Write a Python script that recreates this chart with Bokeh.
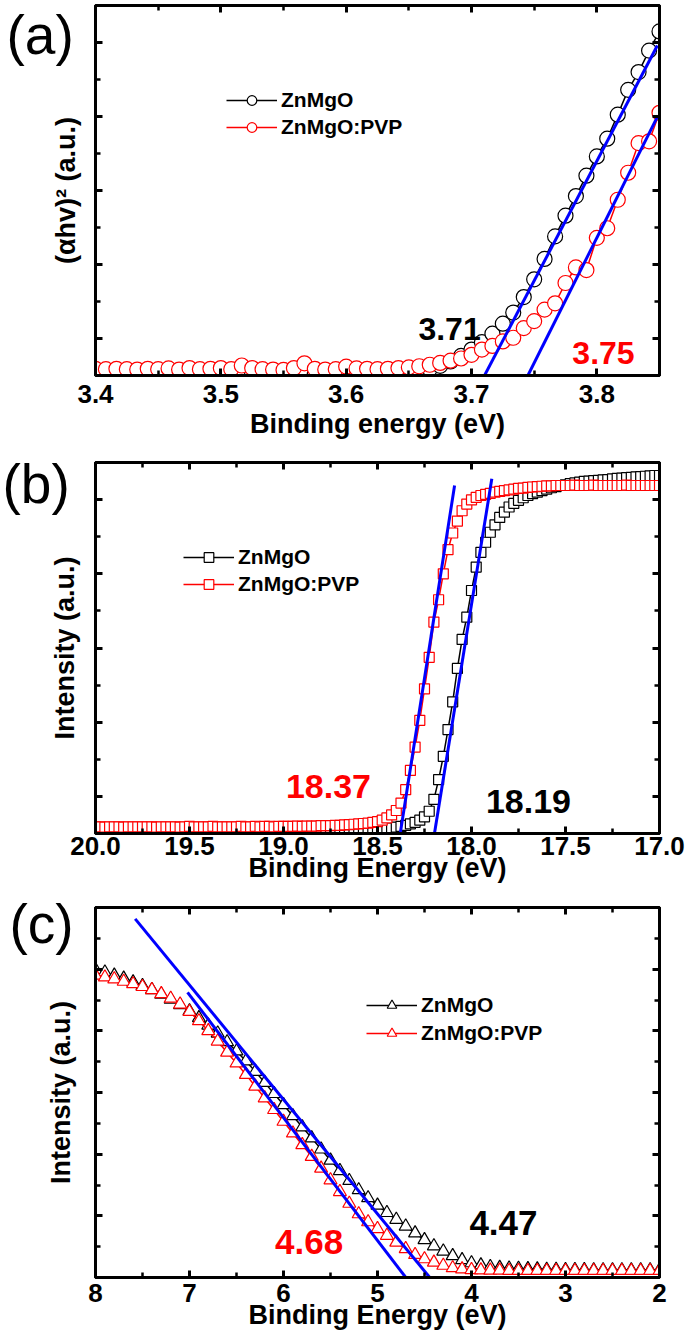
from bokeh.plotting import figure
from bokeh.layouts import column
from bokeh.models import Range1d, LinearAxis, FixedTicker, Legend, LegendItem, Label, Title
from bokeh.embed import file_html
from bokeh.resources import INLINE

FONT = "Liberation Sans"
BLACK = "#000000"
RED = "#ff0000"
BLUE = "#0000ff"

# ---------------- Panel (a): (alpha h v)^2 vs energy ----------------
A_E = [3.4000, 3.4083, 3.4167, 3.4250, 3.4333, 3.4417, 3.4500, 3.4583, 3.4667, 3.4750,
       3.4833, 3.4917, 3.5000, 3.5083, 3.5167, 3.5250, 3.5333, 3.5417, 3.5500, 3.5583,
       3.5667, 3.5750, 3.5833, 3.5917, 3.6000, 3.6083, 3.6167, 3.6250, 3.6333, 3.6417,
       3.6500, 3.6583, 3.6667, 3.6750, 3.6833, 3.6917, 3.7000, 3.7083, 3.7167, 3.7250,
       3.7333, 3.7417, 3.7500, 3.7583, 3.7667, 3.7750, 3.7833, 3.7917, 3.8000, 3.8083,
       3.8167, 3.8250, 3.8333, 3.8417, 3.8500]
A_ZNMGO = [0.06, 0.06, 0.07, 0.06, 0.06, 0.07, 0.06, 0.06, 0.07, 0.06,
           0.06, 0.07, 0.08, 0.06, 0.07, 0.06, 0.06, 0.07, 0.06, 0.06,
           0.07, 0.06, 0.07, 0.06, 0.07, 0.07, 0.07, 0.08, 0.08, 0.09,
           0.10, 0.12, 0.17, 0.26, 0.38, 0.53, 0.70, 0.90, 1.13, 1.40,
           1.70, 2.12, 2.60, 3.15, 3.76, 4.32, 4.85, 5.40, 5.92, 6.40,
           7.05, 7.72, 8.20, 8.78, 9.30]
A_PVP = [0.18, 0.17, 0.18, 0.17, 0.16, 0.18, 0.17, 0.19, 0.16, 0.20,
         0.17, 0.18, 0.20, 0.17, 0.27, 0.20, 0.17, 0.16, 0.15, 0.20,
         0.33, 0.18, 0.16, 0.17, 0.24, 0.19, 0.18, 0.17, 0.18, 0.20,
         0.22, 0.25, 0.29, 0.34, 0.40, 0.46, 0.56, 0.70, 0.80, 0.92,
         1.02, 1.28, 1.47, 1.78, 1.95, 2.50, 2.92, 2.85, 3.72, 3.98,
         4.75, 5.48, 6.28, 6.33, 7.10]
A_FIT_ZNMGO_E = [3.7104, 3.8483]
A_FIT_ZNMGO_Y = [0.0, 8.92]
A_FIT_PVP_E = [3.7450, 3.8489]
A_FIT_PVP_Y = [0.0, 7.03]
A_XTICKS = [3.4, 3.5, 3.6, 3.7, 3.8]
A_XLABELS = ["3.4", "3.5", "3.6", "3.7", "3.8"]
A_XMINOR = [3.45, 3.55, 3.65, 3.75, 3.85]
A_YMAJOR = [1, 3, 5, 7, 9]
A_YMINOR = [2, 4, 6, 8]
A_GAP_ZNMGO = "3.71"
A_GAP_PVP = "3.75"

# ---------------- Panel (b): secondary electron cut-off ----------------
B_E = [20.000, 19.975, 19.950, 19.925, 19.900, 19.875, 19.850, 19.825, 19.800, 19.775,
       19.750, 19.725, 19.700, 19.675, 19.650, 19.625, 19.600, 19.575, 19.550, 19.525,
       19.500, 19.475, 19.450, 19.425, 19.400, 19.375, 19.350, 19.325, 19.300, 19.275,
       19.250, 19.225, 19.200, 19.175, 19.150, 19.125, 19.100, 19.075, 19.050, 19.025,
       19.000, 18.975, 18.950, 18.925, 18.900, 18.875, 18.850, 18.825, 18.800, 18.775,
       18.750, 18.725, 18.700, 18.675, 18.650, 18.625, 18.600, 18.575, 18.550, 18.525,
       18.500, 18.475, 18.450, 18.425, 18.400, 18.375, 18.350, 18.325, 18.300, 18.275,
       18.250, 18.225, 18.200, 18.175, 18.150, 18.125, 18.100, 18.075, 18.050, 18.025,
       18.000, 17.975, 17.950, 17.925, 17.900, 17.875, 17.850, 17.825, 17.800, 17.775,
       17.750, 17.725, 17.700, 17.675, 17.650, 17.625, 17.600, 17.575, 17.550, 17.525,
       17.500, 17.475, 17.450, 17.425, 17.400, 17.375, 17.350, 17.325, 17.300, 17.275,
       17.250, 17.225, 17.200, 17.175, 17.150, 17.125, 17.100, 17.075, 17.050, 17.025,
       17.000]
B_ZNMGO = [0.12, 0.12, 0.12, 0.12, 0.12, 0.12, 0.12, 0.12, 0.12, 0.12,
           0.12, 0.12, 0.12, 0.12, 0.12, 0.12, 0.12, 0.12, 0.12, 0.12,
           0.12, 0.12, 0.12, 0.12, 0.12, 0.12, 0.12, 0.12, 0.12, 0.12,
           0.12, 0.12, 0.12, 0.12, 0.12, 0.12, 0.12, 0.12, 0.12, 0.12,
           0.12, 0.12, 0.12, 0.12, 0.12, 0.12, 0.12, 0.12, 0.12, 0.12,
           0.12, 0.12, 0.12, 0.12, 0.12, 0.12, 0.12, 0.12, 0.12, 0.12,
           0.12, 0.13, 0.14, 0.15, 0.17, 0.19, 0.22, 0.26, 0.30, 0.36,
           0.45, 0.60, 0.92, 1.45, 2.08, 2.80, 3.55, 4.45, 5.23, 5.83,
           6.55, 7.18, 7.58, 7.85, 8.12, 8.32, 8.52, 8.66, 8.80, 8.90,
           8.98, 9.05, 9.11, 9.16, 9.20, 9.24, 9.28, 9.32, 9.35, 9.38,
           9.40, 9.43, 9.45, 9.47, 9.49, 9.50, 9.51, 9.52, 9.53, 9.54,
           9.56, 9.57, 9.58, 9.59, 9.60, 9.61, 9.62, 9.63, 9.64, 9.65,
           9.65]
B_PVP = [0.18, 0.18, 0.17, 0.18, 0.18, 0.18, 0.17, 0.18, 0.18, 0.18,
         0.18, 0.18, 0.18, 0.17, 0.18, 0.18, 0.18, 0.18, 0.17, 0.18,
         0.19, 0.18, 0.18, 0.18, 0.18, 0.19, 0.18, 0.18, 0.18, 0.18,
         0.18, 0.19, 0.18, 0.18, 0.19, 0.18, 0.19, 0.19, 0.18, 0.19,
         0.19, 0.19, 0.19, 0.20, 0.19, 0.20, 0.20, 0.20, 0.21, 0.21,
         0.21, 0.22, 0.22, 0.23, 0.24, 0.25, 0.26, 0.27, 0.28, 0.30,
         0.32, 0.36, 0.42, 0.50, 0.62, 0.82, 1.18, 1.70, 2.33, 3.05,
         3.90, 4.75, 5.70, 6.30, 7.00, 7.65, 8.10, 8.42, 8.70, 8.88,
         8.99, 9.06, 9.11, 9.14, 9.17, 9.20, 9.22, 9.24, 9.26, 9.28,
         9.30, 9.31, 9.33, 9.34, 9.35, 9.36, 9.37, 9.37, 9.38, 9.38,
         9.38, 9.38, 9.39, 9.38, 9.38, 9.38, 9.39, 9.38, 9.38, 9.38,
         9.38, 9.38, 9.38, 9.39, 9.38, 9.38, 9.38, 9.38, 9.38, 9.38,
         9.38]
B_FIT_ZNMGO_E = [18.197, 17.892]
B_FIT_ZNMGO_Y = [0.0, 9.56]
B_FIT_PVP_E = [18.379, 18.090]
B_FIT_PVP_Y = [0.0, 9.38]
B_XTICKS = [20.0, 19.5, 19.0, 18.5, 18.0, 17.5, 17.0]
B_XLABELS = ["20.0", "19.5", "19.0", "18.5", "18.0", "17.5", "17.0"]
B_XMINOR = [19.75, 19.25, 18.75, 18.25, 17.75, 17.25]
B_YMAJOR = [1, 3, 5, 7, 9]
B_YMINOR = [2, 4, 6, 8]
B_CUT_ZNMGO = "18.19"
B_CUT_PVP = "18.37"

# ---------------- Panel (c): valence band edge ----------------
C_E = [8.0, 7.9, 7.8, 7.7, 7.6, 7.5, 7.4, 7.3, 7.2, 7.1,
       7.0, 6.9, 6.8, 6.7, 6.6, 6.5, 6.4, 6.3, 6.2, 6.1,
       6.0, 5.9, 5.8, 5.7, 5.6, 5.5, 5.4, 5.3, 5.2, 5.1,
       5.0, 4.9, 4.8, 4.7, 4.6, 4.5, 4.4, 4.3, 4.2, 4.1,
       4.0, 3.9, 3.8, 3.7, 3.6, 3.5, 3.4, 3.3, 3.2, 3.1,
       3.0, 2.9, 2.8, 2.7, 2.6, 2.5, 2.4, 2.3, 2.2, 2.1,
       2.0]
C_ZNMGO = [9.98, 9.90, 9.80, 9.70, 9.58, 9.46, 9.33, 9.18, 9.02, 8.84,
           8.64, 8.42, 8.18, 7.92, 7.64, 7.34, 7.02, 6.68, 6.32, 5.96,
           5.60, 5.24, 4.88, 4.52, 4.16, 3.80, 3.46, 3.14, 2.84, 2.58,
           2.34, 2.10, 1.88, 1.66, 1.44, 1.22, 1.02, 0.85, 0.70, 0.57,
           0.47, 0.40, 0.35, 0.32, 0.30, 0.29, 0.28, 0.27, 0.26, 0.26,
           0.25, 0.25, 0.25, 0.24, 0.24, 0.24, 0.24, 0.24, 0.24, 0.24,
           0.24]
C_PVP = [9.80, 9.74, 9.68, 9.60, 9.52, 9.43, 9.33, 9.20, 9.05, 8.86,
         8.62, 8.32, 8.00, 7.66, 7.30, 6.95, 6.58, 6.20, 5.82, 5.44,
         5.06, 4.68, 4.30, 3.92, 3.54, 3.16, 2.78, 2.40, 2.06, 1.80,
         1.58, 1.36, 1.14, 0.93, 0.74, 0.60, 0.49, 0.39, 0.31, 0.27,
         0.25, 0.24, 0.23, 0.23, 0.22, 0.22, 0.22, 0.22, 0.22, 0.22,
         0.22, 0.22, 0.22, 0.22, 0.22, 0.22, 0.22, 0.22, 0.22, 0.22,
         0.22]
C_FIT_ZNMGO_E = [7.578, 4.444]
C_FIT_ZNMGO_Y = [11.63, 0.0]
C_FIT_PVP_E = [7.021, 4.699]
C_FIT_PVP_Y = [9.25, 0.0]
C_XTICKS = [8, 7, 6, 5, 4, 3, 2]
C_XLABELS = ["8", "7", "6", "5", "4", "3", "2"]
C_XMINOR = [7.5, 6.5, 5.5, 4.5, 3.5, 2.5]
C_YMAJOR = [2, 4, 6, 8, 10]
C_YMINOR = [1, 3, 5, 7, 9, 11]
C_VB_ZNMGO = "4.47"
C_VB_PVP = "4.68"

SERIES_NAMES = ["ZnMgO", "ZnMgO:PVP"]


def style_axis(ax, ticks, minor, overrides=None, labels=True, label_standoff=0):
    ax.ticker = FixedTicker(ticks=ticks, minor_ticks=minor)
    ax.axis_line_width = 3
    ax.axis_line_color = BLACK
    ax.major_tick_in = 7
    ax.major_tick_out = 0
    ax.minor_tick_in = 5
    ax.minor_tick_out = 0
    ax.major_tick_line_width = 3
    ax.minor_tick_line_width = 2.5
    ax.major_tick_line_color = BLACK
    ax.minor_tick_line_color = BLACK
    if overrides:
        ax.major_label_overrides = overrides
    if labels:
        ax.major_label_text_font = FONT
        ax.major_label_text_font_style = "bold"
        ax.major_label_text_font_size = "26px"
        ax.major_label_text_color = BLACK
        ax.major_label_standoff = label_standoff
    else:
        ax.major_label_text_font_size = "0px"
        ax.major_label_text_alpha = 0
        ax.major_label_standoff = 0


def make_panel(xr, yr, fh, borders, xticks, xlabels, xminor, ymajor, yminor,
               xtitle, ytitle, tick_standoff, title_standoff,
               tag, tag_offset, tag_line_height, ytitle_standoff, ytitle_offset):
    bt, bb = borders
    p = figure(frame_width=564, frame_height=fh,
               min_border_left=95, min_border_right=29,
               min_border_top=bt, min_border_bottom=bb,
               x_range=Range1d(*xr), y_range=Range1d(*yr),
               output_backend="svg", toolbar_location=None, tools="")
    p.xgrid.visible = False
    p.ygrid.visible = False
    p.outline_line_color = BLACK
    p.outline_line_width = 3
    p.background_fill_color = "white"
    p.border_fill_color = "white"

    # panel tag "(a)" etc.: plot title pulled down beside the top-left of the frame
    p.title.text = "\n" + tag
    p.title.align = "left"
    p.title.vertical_align = "middle"
    p.title.offset = tag_offset
    p.title.standoff = -200
    p.title.text_font = FONT
    p.title.text_font_style = "normal"
    p.title.text_font_size = "55px"
    p.title.text_line_height = tag_line_height
    p.title.text_color = BLACK

    ov = {t: l for t, l in zip(xticks, xlabels)}
    bx = p.xaxis[0]
    style_axis(bx, xticks, xminor, ov, True, tick_standoff)
    bx.axis_label = xtitle
    bx.axis_label_text_font = FONT
    bx.axis_label_text_font_style = "bold"
    bx.axis_label_text_font_size = "27px"
    bx.axis_label_text_color = BLACK
    bx.axis_label_standoff = title_standoff

    ly = p.yaxis[0]
    style_axis(ly, ymajor, yminor, None, False)

    top = LinearAxis()
    style_axis(top, xticks, xminor, None, False)
    p.add_layout(top, "above")
    right = LinearAxis()
    style_axis(right, ymajor, yminor, None, False)
    p.add_layout(right, "right")

    # y-axis title (sits a little below the frame centre, as in the original)
    yt = Title(text=ytitle, align="center", vertical_align="middle",
               offset=ytitle_offset, standoff=ytitle_standoff,
               text_font=FONT, text_font_style="bold", text_font_size="27px",
               text_color=BLACK)
    p.add_layout(yt, "left")
    return p


def add_series(p, x, y1, y2, marker, size):
    l1 = p.line(x, y1, line_color=BLACK, line_width=1.5)
    s1 = p.scatter(x, y1, marker=marker, size=size, line_color=BLACK,
                   fill_color="white", line_width=1.2)
    l2 = p.line(x, y2, line_color=RED, line_width=1.5)
    s2 = p.scatter(x, y2, marker=marker, size=size, line_color=RED,
                   fill_color="white", line_width=1.2)
    return (l1, s1), (l2, s2)


def add_legend(p, r1, r2, loc, spacing):
    leg = Legend(items=[LegendItem(label=SERIES_NAMES[0], renderers=list(r1)),
                        LegendItem(label=SERIES_NAMES[1], renderers=list(r2))],
                 location=loc, glyph_width=51, glyph_height=24, label_height=24,
                 label_standoff=4, spacing=spacing, padding=0, margin=0,
                 border_line_alpha=0, background_fill_alpha=0,
                 label_text_font=FONT, label_text_font_style="bold",
                 label_text_font_size="21px", label_text_color=BLACK)
    p.add_layout(leg)


def add_text(p, x, y, text, color, size):
    p.add_layout(Label(x=x, y=y, text=text, text_font=FONT, text_font_size=size,
                       text_font_style="bold", text_color=color,
                       text_align="center", text_baseline="middle"))


# ----- (a)
pa = make_panel((3.4, 3.85), (0, 10), 370, (5, 76), A_XTICKS, A_XLABELS, A_XMINOR,
                A_YMAJOR, A_YMINOR, "Binding energy (eV)", "(\u03b1hv)\u00b2 (a.u.)",
                9, 3, "(a)", -89, 0.95, 27, -20)
ra1, ra2 = add_series(pa, A_E, A_ZNMGO, A_PVP, "circle", 15)
pa.line(A_FIT_ZNMGO_E, A_FIT_ZNMGO_Y, line_color=BLUE, line_width=3)
pa.line(A_FIT_PVP_E, A_FIT_PVP_Y, line_color=BLUE, line_width=3)
add_legend(pa, ra1, ra2, (131, 236), 3)
add_text(pa, 3.6825, 1.27, A_GAP_ZNMGO, BLACK, "32px")
add_text(pa, 3.8053, 0.62, A_GAP_PVP, RED, "32px")

# ----- (b)
pb = make_panel((20.0, 17.0), (0, 10), 371, (11, 58), B_XTICKS, B_XLABELS, B_XMINOR,
                B_YMAJOR, B_YMINOR, "Binding Energy (eV)", "Intensity (a.u.)",
                3, -5, "(b)", -93, 0.69, 29, -17)
rb1, rb2 = add_series(pb, B_E, B_ZNMGO, B_PVP, "square", 10)
pb.line(B_FIT_ZNMGO_E, B_FIT_ZNMGO_Y, line_color=BLUE, line_width=3)
pb.line(B_FIT_PVP_E, B_FIT_PVP_Y, line_color=BLUE, line_width=3)
add_legend(pb, rb1, rb2, (88, 237), 3)
add_text(pb, 18.761, 1.27, B_CUT_PVP, RED, "34px")
add_text(pb, 17.697, 0.86, B_CUT_ZNMGO, BLACK, "34px")

# ----- (c)
pc = make_panel((8.0, 2.0), (0, 12), 370, (16, 60), C_XTICKS, C_XLABELS, C_XMINOR,
                C_YMAJOR, C_YMINOR, "Binding Energy (eV)", "Intensity (a.u.)",
                6, -5, "(c)", -86, 0.53, 38, -19)
rc1, rc2 = add_series(pc, C_E, C_ZNMGO, C_PVP, "triangle", 13)
pc.line(C_FIT_ZNMGO_E, C_FIT_ZNMGO_Y, line_color=BLUE, line_width=3)
pc.line(C_FIT_PVP_E, C_FIT_PVP_Y, line_color=BLUE, line_width=3)
add_legend(pc, rc1, rc2, (271, 232), 4)
add_text(pc, 5.727, 1.14, C_VB_PVP, RED, "35px")
add_text(pc, 3.660, 1.78, C_VB_ZNMGO, BLACK, "35px")

layout = column(pa, pb, pc, spacing=0)
open("out.html", "w").write(file_html(layout, INLINE))
